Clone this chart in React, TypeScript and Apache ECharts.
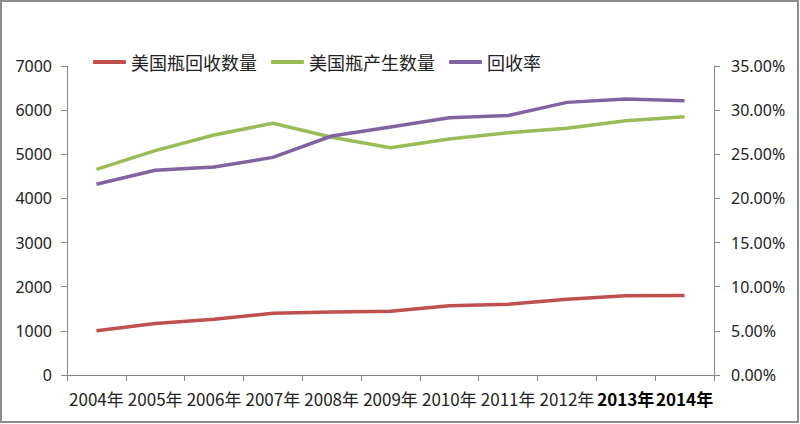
import React, { useEffect, useRef } from "react";
import * as echarts from "echarts";

const categories = ["2004年", "2005年", "2006年", "2007年", "2008年", "2009年", "2010年", "2011年", "2012年", "2013年", "2014年"];
const recycled = [1000, 1165, 1263, 1398, 1429, 1444, 1571, 1602, 1714, 1797, 1800];
const produced = [4660, 5082, 5437, 5702, 5385, 5150, 5347, 5490, 5589, 5762, 5852];
const rate = [21.6, 23.2, 23.55, 24.65, 27.07, 28.1, 29.14, 29.4, 30.88, 31.26, 31.07];
const boldCategories = ["2013年", "2014年"];
const seriesNames = ["美国瓶回收数量", "美国瓶产生数量", "回收率"];

const App: React.FC = () => {
  const ref = useRef<HTMLDivElement>(null);
  useEffect(() => {
    if (!ref.current) return;
    const chart = echarts.init(ref.current, undefined, { renderer: "svg" });
    const axisColor = "#868686";
    const numFont = "'Noto Sans', sans-serif";
    const cjkFont = "'Noto Sans CJK SC', sans-serif";
    chart.setOption({
      animation: false,
      backgroundColor: "#ffffff",
      graphic: [
        {
          type: "rect",
          shape: { x: 1, y: 1, width: 797, height: 421 },
          style: { fill: "none", stroke: "#8c8c8c", lineWidth: 2 },
          silent: true,
        },
      ],
      legend: {
        top: 48,
        left: 88,
        itemWidth: 33,
        itemHeight: 4,
        itemGap: 14,
        icon: "roundRect",
        textStyle: { fontSize: 18, color: "#222", fontFamily: cjkFont },
        data: seriesNames,
      },
      grid: { left: 67, right: 86, top: 66, bottom: 49, containLabel: false },
      xAxis: {
        type: "category",
        data: categories.map((c) =>
          boldCategories.includes(c)
            ? { value: c, textStyle: { fontWeight: "bold", color: "#000" } }
            : c
        ),
        boundaryGap: true,
        axisLine: { lineStyle: { color: axisColor, width: 1 } },
        axisTick: { show: true, length: 6, lineStyle: { color: axisColor } },
        axisLabel: {
          interval: 0,
          margin: 15,
          fontSize: 17,
          color: "#222",
          fontFamily: cjkFont,
        },
      },
      yAxis: [
        {
          type: "value",
          min: 0,
          max: 7000,
          interval: 1000,
          axisLine: { show: true, lineStyle: { color: axisColor } },
          axisTick: { show: true, length: 6, lineStyle: { color: axisColor } },
          splitLine: { show: false },
          axisLabel: {
            margin: 15,
            fontSize: 16,
            color: "#222",
            fontFamily: numFont,
            formatter: (v: number) => String(v),
          },
        },
        {
          type: "value",
          min: 0,
          max: 35,
          interval: 5,
          position: "right",
          axisLine: { show: true, lineStyle: { color: axisColor } },
          axisTick: { show: true, length: 6, lineStyle: { color: axisColor } },
          splitLine: { show: false },
          axisLabel: {
            margin: 17,
            fontSize: 16,
            color: "#222",
            fontFamily: numFont,
            formatter: (v: number) => v.toFixed(2) + "%",
          },
        },
      ],
      series: [
        {
          name: seriesNames[0],
          type: "line",
          data: recycled,
          yAxisIndex: 0,
          showSymbol: false,
          symbol: "none",
          lineStyle: { width: 3.5, color: "#C0504D" },
          itemStyle: { color: "#C0504D" },
        },
        {
          name: seriesNames[1],
          type: "line",
          data: produced,
          yAxisIndex: 0,
          showSymbol: false,
          symbol: "none",
          lineStyle: { width: 3.5, color: "#9BBB59" },
          itemStyle: { color: "#9BBB59" },
        },
        {
          name: seriesNames[2],
          type: "line",
          data: rate,
          yAxisIndex: 1,
          showSymbol: false,
          symbol: "none",
          lineStyle: { width: 3.5, color: "#8064A2" },
          itemStyle: { color: "#8064A2" },
        },
      ],
    });
    return () => chart.dispose();
  }, []);
  return (
    <div
      ref={ref}
      style={{ position: "fixed", left: 0, top: 0, width: 800, height: 424 }}
    />
  );
};

export default App;
